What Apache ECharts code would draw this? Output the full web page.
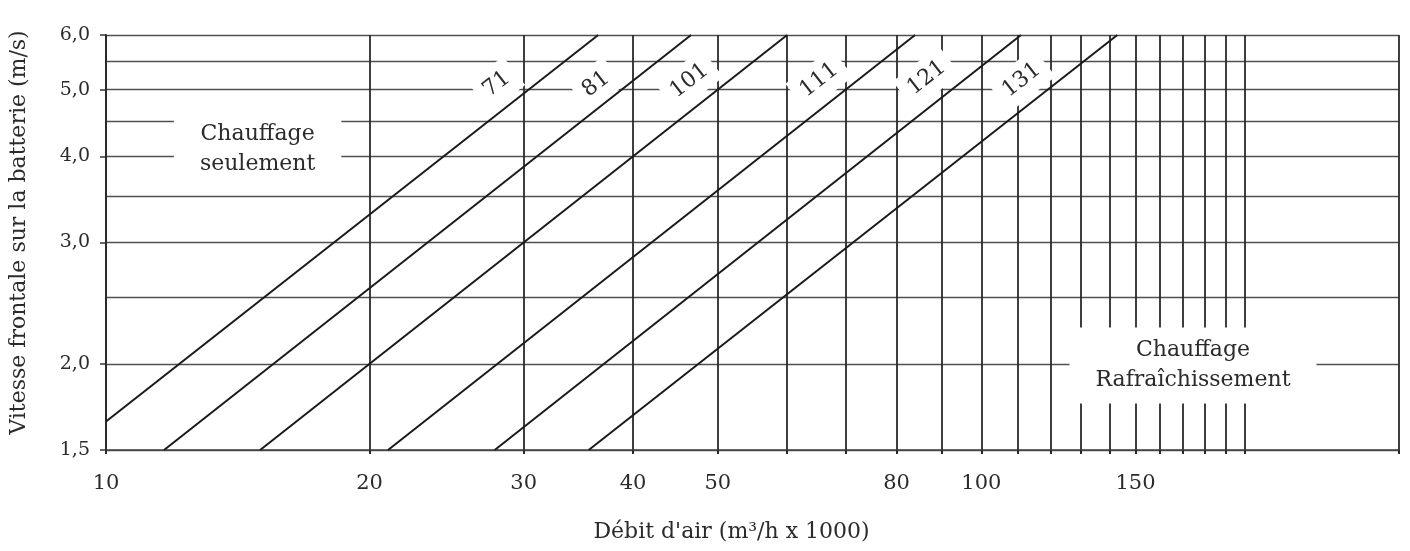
<!DOCTYPE html>
<html><head><meta charset="utf-8">
<script src="https://cdn.jsdelivr.net/npm/echarts@6/dist/echarts.min.js"></script>
<style>html,body{margin:0;padding:0;background:#fff}#c{width:1410px;height:551px}</style>
</head><body><div id="c"></div>
<script>
// ---- data ----
const xGridValues = [10,20,30,40,50,60,70,80,90,100,110,120,130,140,150,160,170,180,190,200,300];
const xLabelValues = [10,20,30,40,50,80,100,150];
const yGridValues = [1.5,2.0,2.5,3.0,3.5,4.0,4.5,5.0,5.5,6.0];
const yLabelValues = [1.5,2.0,3.0,4.0,5.0,6.0];
const xMin = 10, xMax = 300, yMin = 1.5, yMax = 6.0;
const curveNames = ['71','81','101','111','121','131'];
const curveStarts = [[10,1.65],[11.65,1.5],[15,1.5],[21,1.5],[27.8,1.5],[35.6,1.5]];
const curveEnds = [[36.5,6.0],[46.6,6.0],[60,6.0],[84,6.0],[111,6.0],[143,6.0]];
const curveLabelPos = [[27.95,5.09],[36.3,5.09],[46.4,5.15],[65.3,5.16],[86.6,5.2],[111.2,5.16]];
const zoneTexts = ['Chauffage\nseulement','Chauffage\nRafraîchissement'];
const zonePos = [[14.9,4.09],[174.5,1.99]];
const xName = "Débit d'air (m³/h x 1000)";
const yName = 'Vitesse frontale sur la batterie (m/s)';

const L = Math.log10;
const FONT = 'DejaVu Serif';
const TXT = '#2b2b2b';

function nearest(arr, v) {
  let best = arr[0];
  for (const a of arr) if (Math.abs(a - v) < Math.abs(best - v)) best = a;
  return best;
}

const series = [];
curveNames.forEach((n, i) => {
  series.push({
    type: 'line', name: n, silent: true, z: 10,
    symbol: 'none',
    lineStyle: { color: '#1a1a1a', width: 2 },
    data: [[L(curveStarts[i][0]), L(curveStarts[i][1])], [L(curveEnds[i][0]), L(curveEnds[i][1])]]
  });
});
series.push({
  type: 'scatter', silent: true, z: 5, symbolSize: 0,
  itemStyle: { opacity: 1 },
  data: curveLabelPos.map((p, i) => ({ value: [L(p[0]), L(p[1])], name: curveNames[i] })),
  label: {
    show: true, position: 'inside', rotate: 38, opacity: 1,
    formatter: p => p.name,
    fontFamily: FONT, fontSize: 22, color: TXT,
    backgroundColor: '#fff', padding: [6, 8, 8, 8]
  }
});
series.push({
  type: 'scatter', silent: true, z: 5, symbolSize: 0,
  itemStyle: { opacity: 1 },
  data: zonePos.map((p, i) => ({ value: [L(p[0]), L(p[1])], name: zoneTexts[i] })),
  label: {
    show: true, position: 'inside', opacity: 1,
    formatter: p => p.name,
    fontFamily: FONT, fontSize: 22, color: TXT, lineHeight: 30, align: 'center',
    backgroundColor: '#fff', padding: [8, 26, 8, 26]
  }
});

const option = {
  animation: false,
  backgroundColor: '#fff',
  grid: { left: 106, right: 11, top: 35, bottom: 101, containLabel: false },
  xAxis: {
    type: 'value', min: L(xMin), max: L(xMax),
    axisLine: { show: true, onZero: false, lineStyle: { color: '#444', width: 1.5 } },
    axisTick: { show: true, customValues: xGridValues.map(L), length: 4, lineStyle: { color: '#2a2a2a', width: 2 } },
    axisLabel: {
      customValues: xLabelValues.map(L),
      formatter: v => String(nearest(xLabelValues, Math.pow(10, v))),
      fontFamily: FONT, fontSize: 21, color: TXT, margin: 23
    },
    splitLine: { show: true, lineStyle: { color: '#2a2a2a', width: 1.8 } },
    name: xName, nameLocation: 'middle', nameGap: 71,
    nameTextStyle: { fontFamily: FONT, fontSize: 22, color: TXT, padding: [0, 42, 0, 0] }
  },
  yAxis: [{
    type: 'value', min: L(yMin), max: L(yMax), position: 'left',
    axisLine: { show: true, lineStyle: { color: '#2a2a2a', width: 2 } },
    axisTick: { show: false, customValues: yGridValues.map(L) },
    axisLabel: { show: false },
    splitLine: { show: true, lineStyle: { color: '#505050', width: 1.4 } }
  }, {
    type: 'value', min: L(yMin), max: L(yMax), position: 'left',
    axisLine: { show: false },
    axisTick: { show: true, customValues: yLabelValues.map(L), length: 6, lineStyle: { color: '#333', width: 1.5 } },
    axisLabel: {
      customValues: yLabelValues.map(L),
      formatter: v => nearest(yLabelValues, Math.pow(10, v)).toFixed(1).replace('.', ','),
      fontFamily: FONT, fontSize: 19, color: TXT, margin: 16
    },
    splitLine: { show: false },
    name: yName, nameLocation: 'middle', nameGap: 76,
    nameTextStyle: { fontFamily: FONT, fontSize: 22, color: TXT, padding: [0, 0, 0, 20] }
  }],
  series: series
};

const chart = echarts.init(document.getElementById('c'), null, { renderer: 'canvas' });
chart.setOption(option);
</script>
</body></html>
